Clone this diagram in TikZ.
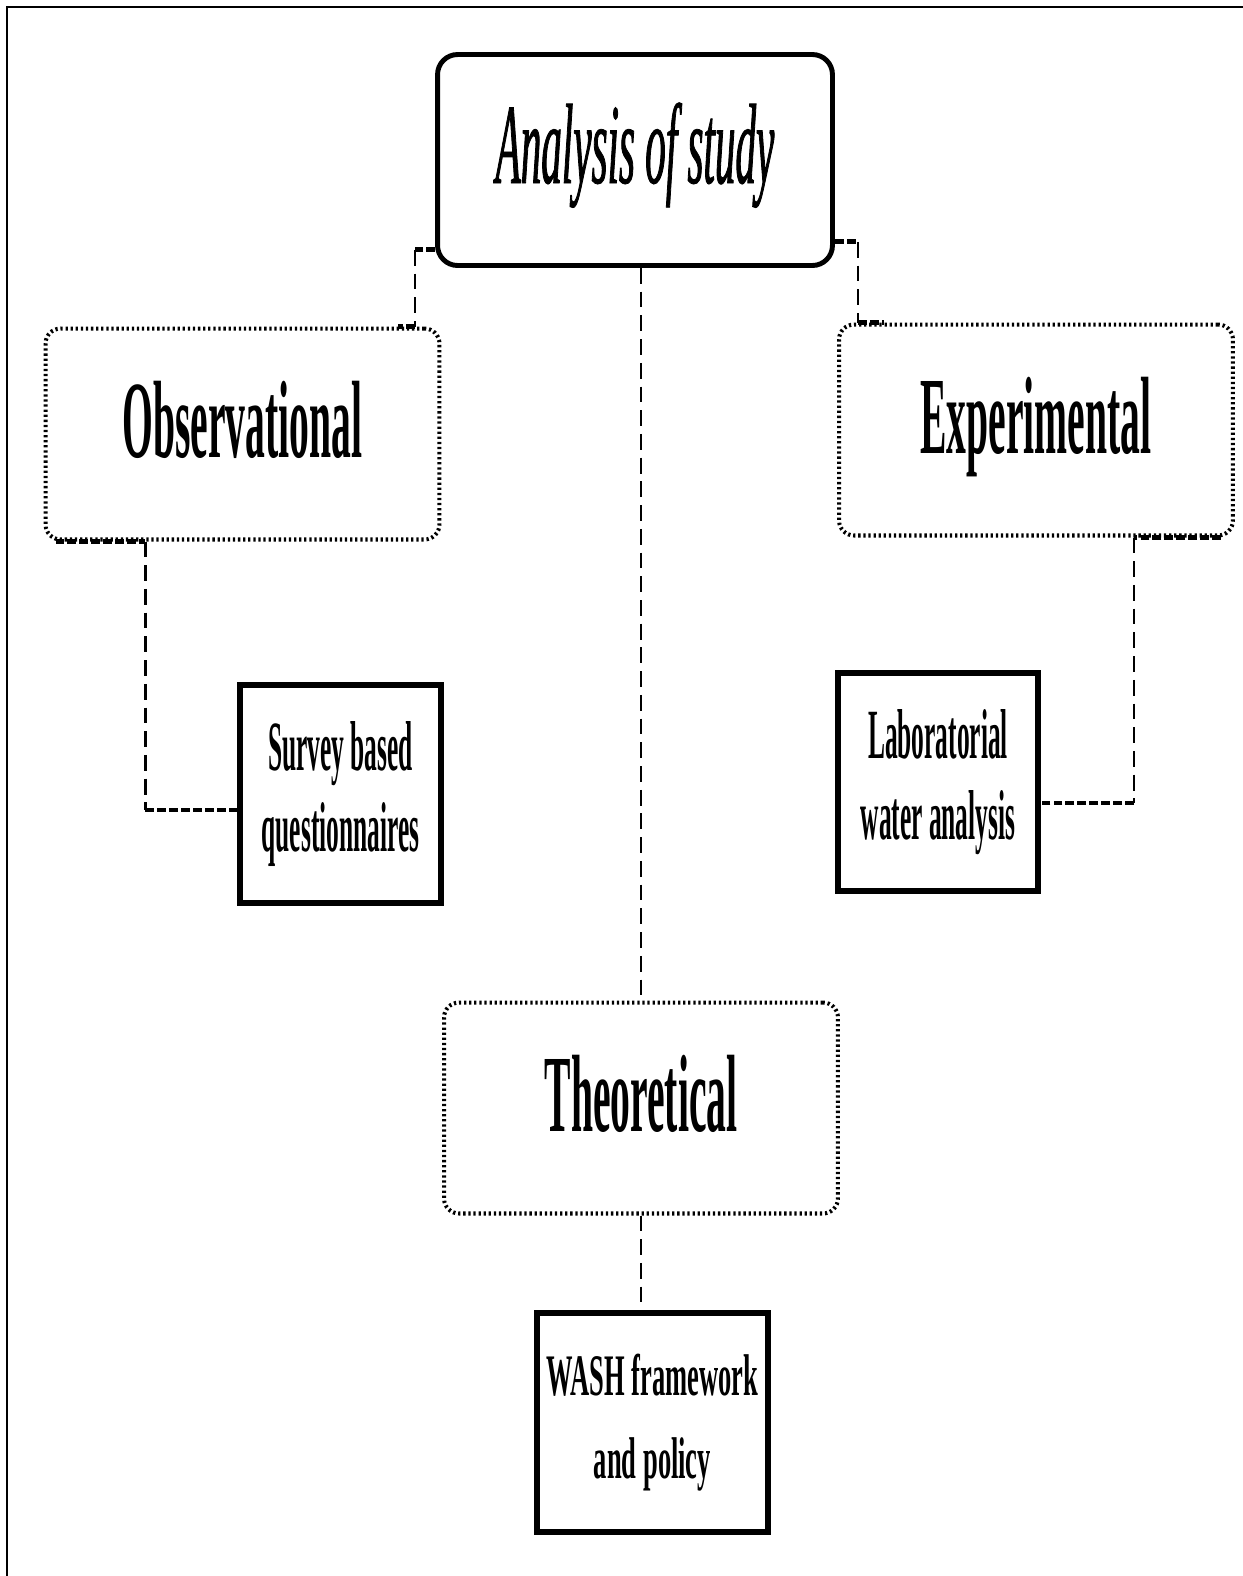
\documentclass[tikz,border=0pt]{standalone}
\usepackage{fontspec}
\usepackage{tikz}
\newfontfamily\condfont[FakeStretch=0.36, ItalicFeatures={FakeBold=0.7}]{Liberation Serif}
\newfontfamily\washfont[FakeStretch=0.45]{Liberation Serif}
\tikzset{
  headbox/.style={draw, line width=2.8pt, rounded corners=0.4cm,
    minimum width=7.9cm, minimum height=4.22cm, text height=1.5cm, text depth=0.58cm,
    font=\condfont\itshape\fontsize{65}{70}\selectfont},
  kindbox/.style={draw, line width=2.3pt, dash pattern=on 1.3pt off 1.6pt, rounded corners=0.3cm,
    minimum width=7.88cm, minimum height=4.22cm, text height=1.5cm, text depth=0.58cm,
    font=\condfont\bfseries\fontsize{62.6}{70}\selectfont},
  toolbox/.style={draw, line width=3pt, minimum height=4.36cm, align=center,
    font=\condfont\bfseries\fontsize{40.2}{45.8}\selectfont},
  hlink/.style={line width=2.8pt, dash pattern=on 5pt off 1.8pt},
  vlink/.style={line width=1.6pt, dash pattern=on 9pt off 4.5pt}
}
\begin{document}
\begin{tikzpicture}[x=0.02cm, y=-0.02cm]
        \useasboundingbox (0,0) rectangle (1243,1576);
        \draw[line width=1.6pt] (7,1576) -- (7,7) -- (1243,7);

        \node[headbox] (an) at (635,160) {Analysis of study};
        \node[kindbox] (obs) at (242.5,434) {Observational};
        \node[kindbox] (exp) at (1036,430) {Experimental};
        \node[kindbox] (th) at (641,1108) {Theoretical};

        \node[toolbox, minimum width=4.02cm] (sv) at (340.5,794) {Survey based\\questionnaires};
        \node[toolbox, minimum width=4cm,
          font=\condfont\bfseries\fontsize{40.2}{46.5}\selectfont] (lab) at (938,782)
          {Laboratorial\\water analysis};
        \node[toolbox, minimum width=4.62cm, minimum height=4.38cm,
          font=\washfont\bfseries\fontsize{33.5}{47.6}\selectfont] (wash) at (652.5,1422.5)
          {WASH framework\\and policy};

        % elbows from the head box
        \coordinate (l0) at ([yshift=0.36cm]an.south west);
        \coordinate (l1) at ([xshift=-0.4cm,yshift=0.36cm]an.south west);
        \coordinate (l3) at ([xshift=-0.86cm]obs.north east);
        \draw[hlink] (l0) -- (l1);
        \draw[vlink] (l1) -- (l1 |- obs.north);
        \draw[hlink] (l1 |- obs.north) -- (l3);

        \coordinate (r0) at ([yshift=0.52cm]an.south east);
        \coordinate (r1) at ([xshift=0.46cm,yshift=0.52cm]an.south east);
        \coordinate (r3) at ([xshift=0.94cm]exp.north west);
        \draw[hlink] (r0) -- (r1);
        \draw[vlink] (r1) -- (r1 |- exp.north);
        \draw[hlink] (r1 |- exp.north) -- (r3);

        \draw[vlink] (an.south -| th.north) -- (th.north);

        % down to the tools
        \coordinate (o1) at ([xshift=0.24cm]obs.south west);
        \coordinate (o2) at ([xshift=2.04cm]obs.south west);
        \coordinate (sin) at ([yshift=-0.32cm]sv.west);
        \draw[hlink] (o1) -- (o2);
        \draw[vlink] (o2) -- (o2 |- sin);
        \draw[hlink] (o2 |- sin) -- (sin);

        \coordinate (e1) at ([xshift=-0.28cm]exp.south east);
        \coordinate (e2) at ([xshift=-2.02cm]exp.south east);
        \coordinate (lin) at ([yshift=-0.42cm]lab.east);
        \draw[hlink] (e1) -- (e2);
        \draw[vlink] (e2) -- (e2 |- lin);
        \draw[hlink] (e2 |- lin) -- (lin);

        \draw[vlink] (th.south) -- (th.south |- wash.north);
    \end{tikzpicture}
\end{document}
